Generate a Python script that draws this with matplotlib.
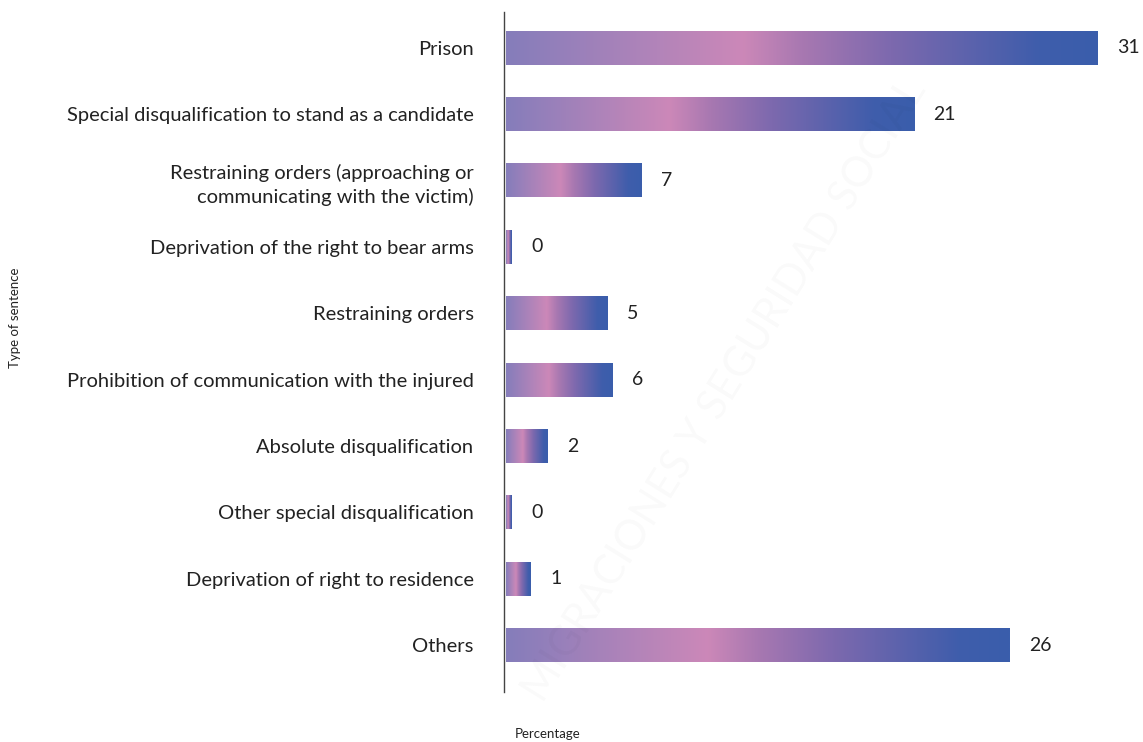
import numpy as np
import matplotlib
matplotlib.use("Agg")
import matplotlib.pyplot as plt
from matplotlib.colors import LinearSegmentedColormap

plt.rcParams['font.family'] = ['Lato', 'DejaVu Sans']

# sentence types, top to bottom
categories = [
    "Prison",
    "Special disqualification to stand as a candidate",
    "Restraining orders (approaching or\ncommunicating with the victim)",
    "Deprivation of the right to bear arms",
    "Restraining orders",
    "Prohibition of communication with the injured",
    "Absolute disqualification",
    "Other special disqualification",
    "Deprivation of right to residence",
    "Others",
]
# percentage of sentences
values = [31.0, 21.4, 7.1, 0.3, 5.3, 5.6, 2.2, 0.3, 1.3, 26.4]

# purple -> pink -> blue fill used inside every bar
bar_cmap = LinearSegmentedColormap.from_list("bars", [
    (0.00, "#857dbb"),
    (0.40, "#cc88b8"),
    (0.50, "#a878b1"),
    (0.65, "#7d69ae"),
    (0.90, "#3f5dab"),
    (1.00, "#3a5eac"),
])
grad = np.linspace(0, 1, 256).reshape(1, -1)

fig = plt.figure(figsize=(11.43, 7.42), dpi=100)
ax = fig.add_axes([0.441, 0.067, 0.559, 0.917])

bar_h = 0.51
for i, v in enumerate(values):
    ax.imshow(grad, extent=[0, v, i + bar_h / 2, i - bar_h / 2],
              aspect='auto', cmap=bar_cmap, interpolation='bilinear', zorder=2)
    ax.annotate(f"{v:.0f}", xy=(v, i), xytext=(14, 0), textcoords='offset points',
                ha='left', va='center', fontsize=14, color='#222222')

ax.set_xlim(-0.1, 33.4)
ax.set_ylim(9.71, -0.54)
ax.set_yticks(range(len(categories)))
ax.set_yticklabels(categories, fontsize=14.5, color='#222222', ha='right',
                   multialignment='right', linespacing=1.4)
ax.tick_params(axis='y', length=0, pad=22)
ax.set_xticks([])
for side in ['top', 'right', 'bottom']:
    ax.spines[side].set_visible(False)
ax.spines['left'].set_color('#444444')
ax.spines['left'].set_linewidth(1.0)

fig.text(15 / 1143, 1 - 318 / 742, "Type of sentence", rotation=90,
         ha='center', va='center', fontsize=9.5, color='#222222')
fig.text(515 / 1143, 1 - 734 / 742, "Percentage", ha='left', va='center',
         fontsize=9.5, color='#222222')

# faint diagonal watermark
fig.text(725 / 1143, 1 - 390 / 742, "MIGRACIONES Y SEGURIDAD SOCIAL",
         rotation=58, ha='center', va='center', fontsize=30,
         color='#000000', alpha=0.025, zorder=10)

fig.savefig("out.png", dpi=100)
